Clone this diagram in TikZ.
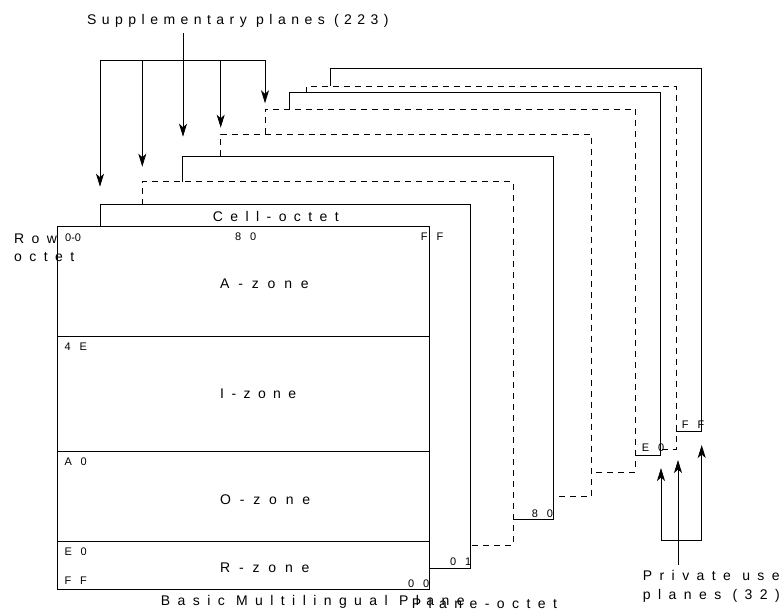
\documentclass[tikz,border=0pt]{standalone}
\usepackage{fontspec}
\setmainfont{Liberation Sans}
\newfontfamily\fsupp[LetterSpace=39]{Liberation Sans}
\newfontfamily\fbig[LetterSpace=53]{Liberation Sans}
\newfontfamily\fzone[LetterSpace=63]{Liberation Sans}
\newfontfamily\fsmall[LetterSpace=81]{Liberation Sans}
\newfontfamily\ftight{Liberation Sans}
\usetikzlibrary{arrows.meta}
\tikzset{
  edge/.style={line width=0.85pt, black},
  solidplane/.style={edge},
  dashplane/.style={edge, dash pattern=on 6pt off 5pt},
  arr/.style={edge, -{Stealth[length=13pt,width=8pt,inset=3.5pt]}},
  suptext/.style={inner sep=0, anchor=base west, font=\fsupp\fontsize{14}{16}\selectfont},
  bigtext/.style={inner sep=0, anchor=base west, font=\fbig\fontsize{14}{16}\selectfont},
  zonetext/.style={inner sep=0, anchor=base west, font=\fzone\fontsize{14}{16}\selectfont},
  smalltext/.style={inner sep=0, anchor=base west, font=\fsmall\fontsize{11}{13}\selectfont},
  tighttext/.style={inner sep=0, anchor=base west, font=\ftight\fontsize{11}{13}\selectfont},
}
\begin{document}
\begin{tikzpicture}[x=1pt,y=-1pt]
\useasboundingbox (0,0) rectangle (784,614);

% planes behind the BMP
\draw[solidplane] (100,226.7) -- (100,204.7) -- (470.7,204.7) -- (470.7,568) -- (429,568);
\draw[dashplane] (142.3,204.7) -- (142.3,181.7) -- (513,181.7) -- (513,545) -- (470.7,545);
\draw[solidplane] (182.7,181.7) -- (182.7,156.3) -- (553.7,156.3) -- (553.7,519.3) -- (513,519.3);
\draw[dashplane] (220.7,156.3) -- (220.7,134.3) -- (591.3,134.3) -- (591.3,496) -- (553.7,496);
\draw[dashplane] (265,134.3) -- (265,109) -- (635.3,109) -- (635.3,472) -- (591.3,472);
\draw[solidplane] (289.3,109) -- (289.3,92.5) -- (660.7,92.5) -- (660.7,455.7) -- (635.3,455.7);
\draw[dashplane] (306,92.5) -- (306,86) -- (676,86) -- (676,449.5) -- (660.7,449.5);
\draw[solidplane] (330,86) -- (330,68.3) -- (701.7,68.3) -- (701.7,431.7) -- (676,431.7);

% Basic Multilingual Plane
\draw[edge] (57.7,226.7) rectangle (429,589.3);
\draw[edge] (57.7,336) -- (429,336);
\draw[edge] (57.7,451) -- (429,451);
\draw[edge] (57.7,541) -- (429,541);

% supplementary arrows
\node[suptext] (supp) at (87,24) {Supplementary planes (223)};
\coordinate (sroot) at (183,33);
\coordinate (b1) at (100,60.3);
\coordinate (b2) at (142.3,60.3);
\coordinate (b4) at (220.7,60.3);
\coordinate (b5) at (265,60.3);
\coordinate (t1) at (100,186.7);
\coordinate (t2) at (142.3,166.7);
\coordinate (t3) at (183,136.7);
\coordinate (t4) at (220.7,127.7);
\coordinate (t5) at (265,103.3);
\draw[edge] (b1) -- (b5);
\draw[arr] (b1) -- (t1);
\draw[arr] (b2) -- (t2);
\draw[arr] (sroot) -- (t3);
\draw[arr] (b4) -- (t4);
\draw[arr] (b5) -- (t5);

% private use arrows
\coordinate (p1) at (661,540);
\coordinate (p2) at (678,540);
\coordinate (p3) at (701.7,540);
\coordinate (q1) at (661,468);
\coordinate (q2) at (678,460);
\coordinate (q3) at (701.7,445);
\coordinate (proot) at (678,565);
\draw[edge] (p1) -- (p3);
\draw[edge] (proot) -- (p2);
\draw[arr] (p1) -- (q1);
\draw[arr] (p2) -- (q2);
\draw[arr] (p3) -- (q3);

% labels
\node[bigtext] (cell) at (212.7,221.7) {Cell-octet};
\node[bigtext] (row) at (14,243.3) {Row};
\node[bigtext] (rowb) at (14,261.7) {octet};
\node[zonetext] (az) at (220,288.3) {A-zone};
\node[bigtext] (iz) at (220,398.3) {I-zone};
\node[zonetext] (oz) at (220,504) {O-zone};
\node[zonetext] (rz) at (220,572.3) {R-zone};
\node[bigtext] (bmp) at (160.7,605) {Basic Multilingual Plane};
\node[bigtext] (poct) at (411.7,608.3) {Plane-octet};
\node[bigtext] (priv) at (642.7,580.7) {Private use};
\node[bigtext] (privb) at (642.7,599.3) {planes (32)};

\node[tighttext] (c00) at (65,241.7) {0-0};
\node[smalltext] (c80) at (235,240) {80};
\node[smalltext] (cFF) at (420.7,240) {FF};
\node[smalltext] (r4E) at (64.3,350.7) {4E};
\node[smalltext] (rA0) at (64.3,465.7) {A0};
\node[smalltext] (rE0) at (64.3,555.3) {E0};
\node[smalltext] (rFF) at (64.3,584) {FF};
\node[smalltext] (p00) at (408,587.3) {00};
\node[smalltext] (p01) at (450,565) {01};
\node[smalltext] (p80) at (531.7,517.3) {80};
\node[smalltext] (pE0) at (641.7,451) {E0};
\node[smalltext] (pFF) at (681.7,428.3) {FF};
\end{tikzpicture}
\end{document}
